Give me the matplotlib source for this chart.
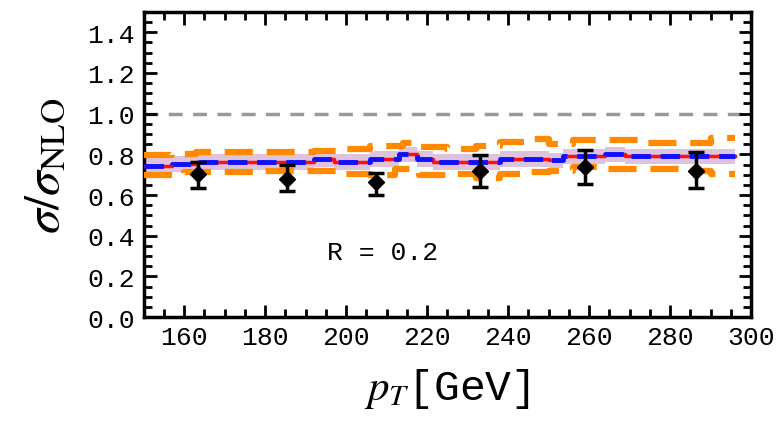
import numpy as np
import matplotlib
matplotlib.use("Agg")
import matplotlib.pyplot as plt
from matplotlib.ticker import MultipleLocator

plt.rcParams['mathtext.fontset'] = 'stix'

# binned theory curves (step edges in GeV, values are ratios to NLO)
edges = [150, 157, 163, 178, 192, 197, 199, 206, 213, 217.5, 221.5, 228,
         238, 250, 253.5, 264, 269, 296]
central = [0.745, 0.752, 0.762, 0.762, 0.777, 0.762, 0.762, 0.777, 0.800,
           0.777, 0.762, 0.762, 0.777, 0.770, 0.790, 0.800, 0.790]
band_half = 0.038

upper_edges = [150, 157, 163, 192, 199, 206, 214, 218, 225, 232, 238, 245,
               250, 256, 272, 290, 296]
upper = [0.795, 0.800, 0.810, 0.818, 0.826, 0.840, 0.858, 0.838, 0.826,
         0.840, 0.860, 0.874, 0.850, 0.870, 0.858, 0.878]

lower_edges = [150, 160, 178, 200, 206, 212, 218, 226, 232, 238, 245, 250,
               256, 262, 283, 290, 296]
lower = [0.700, 0.713, 0.720, 0.704, 0.696, 0.730, 0.700, 0.704, 0.685,
         0.704, 0.713, 0.720, 0.737, 0.730, 0.720, 0.704]

# data points
pt = [163.5, 185.5, 207.5, 233, 259, 286.5]
ratio = [0.704, 0.680, 0.665, 0.720, 0.740, 0.720]
err_up = [0.760, 0.750, 0.710, 0.795, 0.820, 0.810]
err_dn = [0.635, 0.620, 0.600, 0.640, 0.655, 0.635]

xticks = [160, 180, 200, 220, 240, 260, 280, 300]
yticks = [0.0, 0.2, 0.4, 0.6, 0.8, 1.0, 1.2, 1.4]


def stepped(x, v):
    return np.array(x), np.append(v, v[-1])


fig = plt.figure(figsize=(7.78, 4.39), dpi=100)
ax = fig.add_axes([0.1845, 0.2756, 0.7808, 0.6948])

ax.axhline(1.0, color='#999999', lw=2.5, dashes=(4, 3), zorder=1)

ex, cv = stepped(edges, central)
ax.fill_between(ex, cv - band_half, cv + band_half, step='post',
                color='#d6b4d6', alpha=0.8, lw=0, zorder=2)

ux, uv = stepped(upper_edges, upper)
lx, lv = stepped(lower_edges, lower)
ax.step(ux, uv, where='post', color='#ff8a00', lw=4.5, dashes=(4.5, 2.2), zorder=3)
ax.step(lx, lv, where='post', color='#ff8a00', lw=4.5, dashes=(4.5, 2.2), zorder=3)

ax.step(ex, cv, where='post', color='#ff1010', lw=2.5, zorder=4)
ax.step(ex, cv, where='post', color='#1010ff', lw=3.5, dashes=(4, 2), zorder=5)

yerr = [np.array(ratio) - np.array(err_dn), np.array(err_up) - np.array(ratio)]
ax.errorbar(pt, ratio, yerr=yerr, fmt='D', color='black', ms=8, lw=2.5,
            capsize=6, capthick=2.5, zorder=6)

ax.text(209, 0.32, 'R = 0.2', fontsize=19, family='Liberation Mono',
        ha='center', va='center')

ax.set_xlim(150, 300)
ax.set_ylim(0, 1.5)
ax.set_xticks(xticks)
ax.set_yticks(yticks)
ax.set_yticklabels(['%.1f' % v for v in yticks])
ax.xaxis.set_minor_locator(MultipleLocator(5))
ax.yaxis.set_minor_locator(MultipleLocator(0.05))
ax.tick_params(which='both', direction='in', top=True, right=True,
               width=2, labelsize=19)
ax.tick_params(which='major', length=9, pad=6)
ax.tick_params(which='minor', length=6)
for lab in ax.get_xticklabels() + ax.get_yticklabels():
    lab.set_family('Liberation Mono')
for s in ax.spines.values():
    s.set_linewidth(2.5)

ax.set_xlabel(r'$p_T$[GeV]', fontsize=31, family='Liberation Mono', labelpad=12)
ax.set_ylabel(r'$\sigma/\sigma_{\mathrm{NLO}}$', fontsize=36, labelpad=14)

fig.savefig('out.png', dpi=100)
